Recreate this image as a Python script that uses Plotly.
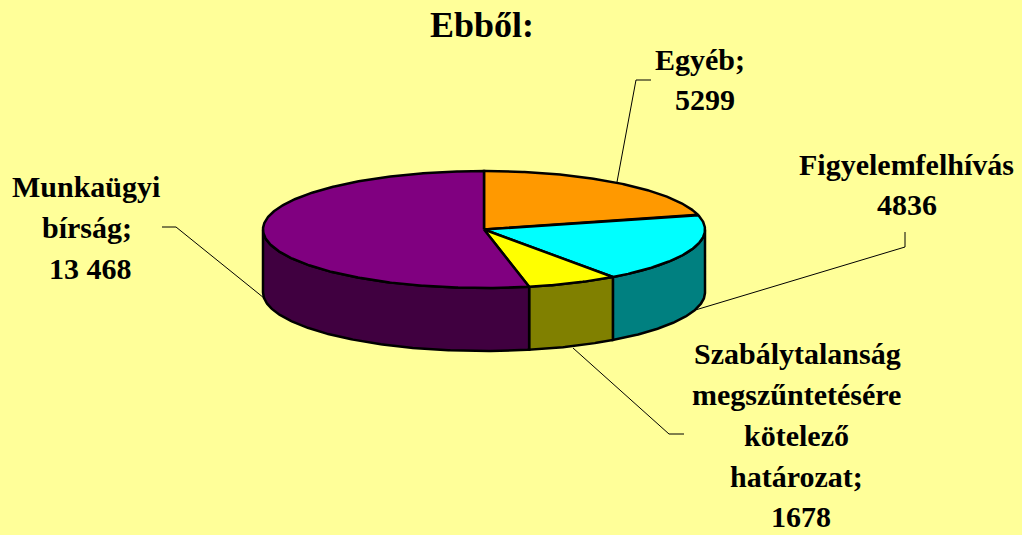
import math
import plotly.graph_objects as go

# Data
categories = ["Egyéb", "Figyelemfelhívás", "Szabálytalanság megszűntetésére kötelező határozat", "Munkaügyi bírság"]
values = [5299, 4836, 1678, 13468]
top_colors = ["#FF9900", "#00FFFF", "#FFFF00", "#800080"]
side_colors = ["#804C00", "#008080", "#808000", "#400040"]

# Chart text (line, x, y in page pixels)
title_text = "Ebből:"
label_lines = [
    ("Egyéb;", 700, 59), ("5299", 705, 99),
    ("Figyelemfelhívás", 906, 164), ("4836", 907, 204),
    ("Szabálytalanság", 797, 353), ("megszűntetésére", 796, 394),
    ("kötelező", 796, 435), ("határozat;", 796, 476), ("1678", 801, 516),
    ("Munkaügyi", 86, 186), ("bírság;", 87, 227), ("13 468", 90, 268),
]
leaders = [
    ([617, 636, 651], [182, 80, 80]),
    ([692, 905, 905], [311, 247, 232]),
    ([573, 669, 684], [348, 434, 434]),
    ([264, 176, 162], [298, 227, 227]),
]

# Pie projection
CX, CY, RX, RY, DEPTH = 484, 229.5, 221, 58.5, 63
BG = "#FFFF99"
FONT = "Liberation Serif"


def arc(a0, a1, dy=0.0):
    n = max(2, int(abs(a1 - a0) * 2) + 1)
    angs = [math.radians(a0 + (a1 - a0) * i / (n - 1)) for i in range(n)]
    return [CX + RX * math.sin(a) for a in angs], [CY + dy - RY * math.cos(a) for a in angs]


total = sum(values)
bounds = [0.0]
for v in values:
    bounds.append(bounds[-1] + v / total * 360)

fig = go.Figure()

# Front walls
for i, name in enumerate(categories):
    a0, a1 = max(bounds[i], 90), min(bounds[i + 1], 270)
    if a1 <= a0:
        continue
    tx, ty = arc(a0, a1)
    bx, by = arc(a1, a0, DEPTH)
    fig.add_trace(go.Scatter(
        x=tx + bx + tx[:1], y=ty + by + ty[:1], mode="lines", fill="toself",
        fillcolor=side_colors[i], line=dict(color="black", width=2.5),
        hoverinfo="skip", showlegend=False, name=name))

# Top faces
for i, name in enumerate(categories):
    ax, ay = arc(bounds[i], bounds[i + 1])
    fig.add_trace(go.Scatter(
        x=[CX] + ax + [CX], y=[CY] + ay + [CY], mode="lines", fill="toself",
        fillcolor=top_colors[i], line=dict(color="black", width=2.5),
        hoverinfo="text", text=f"{name}: {values[i]}", showlegend=False, name=name))

shapes = []
for xs, ys in leaders:
    path = "M " + " L ".join(f"{x} {y}" for x, y in zip(xs, ys))
    shapes.append(dict(type="path", path=path, xref="x", yref="y",
                       line=dict(color="black", width=1), layer="below"))

annotations = [dict(text="<b>" + title_text + "</b>", x=482, y=25, xref="x", yref="y", showarrow=False,
                    xanchor="center", yanchor="middle",
                    font=dict(family=FONT, size=36, color="black"))]
for line, x, y in label_lines:
    annotations.append(dict(text=f"<b>{line}</b>", x=x, y=y, xref="x", yref="y", showarrow=False,
                            xanchor="center", yanchor="middle",
                            font=dict(family=FONT, size=30, color="black")))

fig.update_layout(
    width=1022, height=535, autosize=False,
    margin=dict(l=0, r=0, t=0, b=0),
    paper_bgcolor=BG, plot_bgcolor=BG,
    xaxis=dict(range=[0, 1022], visible=False, fixedrange=True),
    yaxis=dict(range=[535, 0], visible=False, fixedrange=True),
    shapes=shapes, annotations=annotations,
)

fig.write_html("out.html", config={"displayModeBar": False},
               post_script="document.body.style.margin='0';document.body.style.overflow='hidden';document.body.style.background='" + BG + "';")
